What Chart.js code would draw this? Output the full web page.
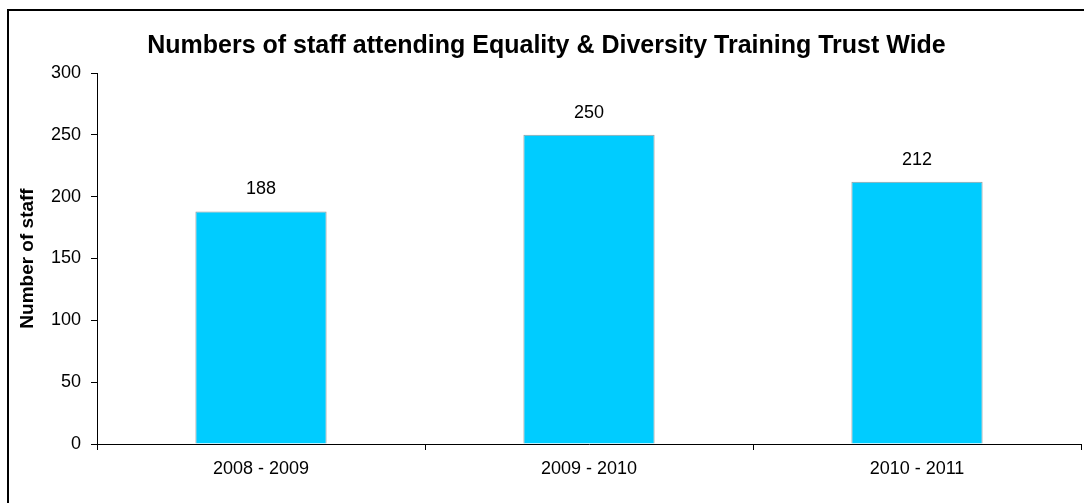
<!DOCTYPE html>
<html>
<head>
<meta charset="utf-8">
<script src="https://cdn.jsdelivr.net/npm/chart.js@4"></script>
<style>
  html, body { margin: 0; padding: 0; background: #fff; overflow: hidden; }
  #frame { position: absolute; left: 7px; top: 9px; width: 1200px; height: 600px; border: 2px solid #000; }
  #myChart { position: absolute; left: 0; top: 0; }
</style>
</head>
<body>
<div id="frame"></div>
<canvas id="myChart" width="1084" height="503"></canvas>
<script>
var years = ["2008 - 2009", "2009 - 2010", "2010 - 2011"];
var staff = [188, 250, 212];
var yTicks = [0, 50, 100, 150, 200, 250, 300];

var font = "'Liberation Sans', Arial, sans-serif";

// values above each bar
var barLabels = {
    id: 'barLabels',
    afterDatasetsDraw: function(chart) {
        var ctx = chart.ctx;
        var meta = chart.getDatasetMeta(0);
        ctx.save();
        ctx.font = "18px " + font;
        ctx.fillStyle = "#000";
        ctx.textAlign = "center";
        ctx.textBaseline = "middle";
        meta.data.forEach(function(bar, i) {
            ctx.fillText(staff[i], bar.x, bar.y - 22);
        });
        ctx.restore();
    }
};

var ctx = document.getElementById('myChart').getContext('2d');
var myChart = new Chart(ctx, {
    type: 'bar',
    data: {
        labels: years,
        datasets: [{
            data: staff,
            backgroundColor: '#00CCFF',
            borderColor: '#999999',
            borderWidth: 1,
            borderSkipped: 'bottom',
            barPercentage: 0.4,
            categoryPercentage: 1
        }]
    },
    options: {
        responsive: false,
        animation: false,
        layout: { padding: { left: 12, right: 3, top: 0, bottom: 0 } },
        plugins: {
            legend: { display: false },
            tooltip: { enabled: false },
            title: {
                display: true,
                text: 'Numbers of staff attending Equality & Diversity Training Trust Wide',
                color: '#000',
                font: { family: font, size: 25, weight: 'bold' },
                padding: { top: 31, bottom: 12 }
            }
        },
        scales: {
            x: {
                grid: { offset: true, drawOnChartArea: false, color: '#000', tickLength: 6 },
                border: { color: '#000', width: 1 },
                ticks: { color: '#000', font: { family: font, size: 18 }, padding: 8 },
                afterFit: function(scale) { scale.height = 59; }
            },
            y: {
                min: 0,
                max: 300,
                afterBuildTicks: function(scale) {
                    scale.ticks = yTicks.map(function(v) { return { value: v }; });
                },
                grid: { drawOnChartArea: false, color: '#000', tickLength: 6 },
                border: { color: '#000', width: 1 },
                ticks: { color: '#000', font: { family: font, size: 18 }, padding: 10 },
                title: {
                    display: true,
                    text: 'Number of staff',
                    color: '#000',
                    font: { family: font, size: 19, weight: 'bold' },
                    padding: { top: 4, bottom: 0 }
                },
                afterFit: function(scale) { scale.width = 85; }
            }
        }
    },
    plugins: [barLabels]
});
</script>
</body>
</html>
